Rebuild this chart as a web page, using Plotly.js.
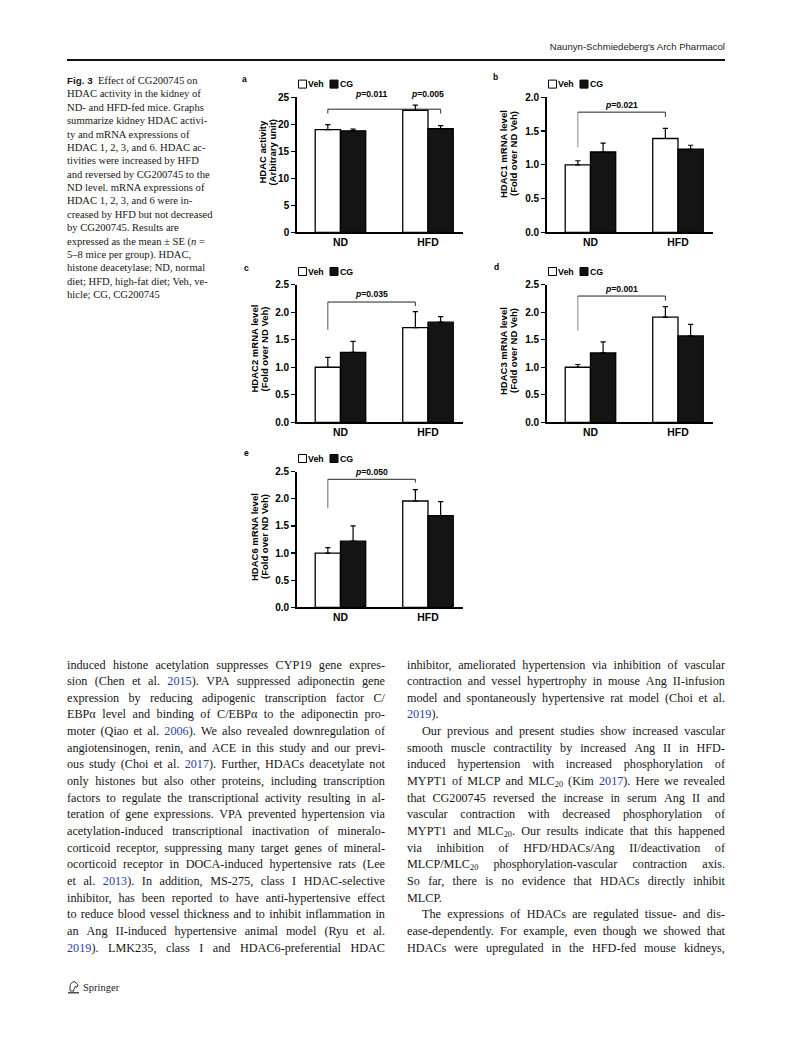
<!DOCTYPE html>
<html><head><meta charset="utf-8">
<script src="https://cdn.plot.ly/plotly-3.0.1.min.js"></script>
<style>
html,body{margin:0;padding:0;background:#fff;}
#page{position:relative;width:793px;height:1053px;overflow:hidden;background:#fff;}
#chart{position:absolute;left:0;top:0;width:793px;height:1053px;z-index:1;}
.txt{position:absolute;font-family:"Liberation Serif","Times New Roman",serif;color:#161616;z-index:2;}
.line{display:flex;justify-content:space-between;white-space:nowrap;}
.line.last{justify-content:flex-start;}
.line.last span{margin-right:0.25em;}
.line span{white-space:nowrap;}
a{color:#2b3f9e;text-decoration:none;}
sub{font-size:0.68em;vertical-align:-0.3em;line-height:0;}
#header{position:absolute;right:68px;top:41px;font-family:"Liberation Sans",Arial,sans-serif;font-size:9.6px;color:#222;}
#rule{position:absolute;left:67px;top:59px;width:658px;height:1.7px;background:#111;}
#caption{left:67px;top:74px;font-size:10.6px;line-height:13.37px;}
#caption .ln{white-space:nowrap;}
#caption b{font-family:"Liberation Sans",Arial,sans-serif;font-size:9.8px;}
#footer{position:absolute;left:67px;top:980px;font-family:"Liberation Serif",serif;font-size:10.5px;color:#222;display:flex;align-items:center;z-index:2;}
</style></head>
<body>
<div id="page">
  <div id="header">Naunyn-Schmiedeberg's Arch Pharmacol</div>
  <div id="rule"></div>
  <div id="caption" class="txt"></div>
  <div id="colL" class="txt" style="left:67px;top:656.5px;width:318px;font-size:12.2px;line-height:16.65px;"></div>
  <div id="colR" class="txt" style="left:407px;top:656.5px;width:318px;font-size:12.2px;line-height:16.65px;"></div>
  <div id="footer"><svg width="13" height="14" viewBox="0 0 13 14"><path d="M3 11 L3 7 Q3 2 8 1.5 L9 3 Q11 4 11 6 L10 7 L8 6.5 L8 8 Q6 9 7 11 Z" fill="none" stroke="#222" stroke-width="0.9"/><line x1="1" y1="12.8" x2="12" y2="12.8" stroke="#222" stroke-width="1.2"/></svg><span style="margin-left:3px;">Springer</span></div>
  <div id="chart"></div>
</div>
<script>
// ---------- DATA ----------
const categories = ['ND', 'HFD'];
const seriesNames = ['Veh', 'CG'];

const vehA = [19.0, 22.6], vehErrA = [0.95, 0.95], cgA = [18.8, 19.2], cgErrA = [0.3, 0.55];
const vehB = [1.0, 1.39], vehErrB = [0.06, 0.15], cgB = [1.19, 1.23], cgErrB = [0.13, 0.06];
const vehC = [1.0, 1.72], vehErrC = [0.18, 0.29], cgC = [1.27, 1.82], cgErrC = [0.2, 0.1];
const vehD = [1.0, 1.91], vehErrD = [0.05, 0.19], cgD = [1.26, 1.57], cgErrD = [0.2, 0.21];
const vehE = [1.0, 1.96], vehErrE = [0.1, 0.21], cgE = [1.22, 1.69], cgErrE = [0.28, 0.26];

const pLabelsA = ['p=0.011', 'p=0.005'];
const pLabelsB = ['p=0.021'];
const pLabelsC = ['p=0.035'];
const pLabelsD = ['p=0.001'];
const pLabelsE = ['p=0.050'];

const yTitleA = ['HDAC activity', '(Arbitrary unit)'];
const yTitleB = ['HDAC1 mRNA level', '(Fold over ND Veh)'];
const yTitleC = ['HDAC2 mRNA level', '(Fold over ND Veh)'];
const yTitleD = ['HDAC3 mRNA level', '(Fold over ND Veh)'];
const yTitleE = ['HDAC6 mRNA level', '(Fold over ND Veh)'];

// ---------- LAYOUT CONFIG ----------
const W = 793, H = 1053;
const px = x => x / W, py = y => 1 - y / H;
const BG = 0.423;                 // bargap
const half = (1 - BG) / 4;        // offset of each bar centre from category centre

const panels = [
  {letter:'a', veh:vehA, vehErr:vehErrA, cg:cgA, cgErr:cgErrA, yMax:25, dtick:5, fmt:'d',
   x0:296.7, x1:463, yTop:97.3, yBot:232.3, title:yTitleA, tx:[261.5, 271.5], ty:152, lx:240, ly:79,
   br:{h:22.8, l:22.0, r:22.0, rightIdx:'cg', py:25.7}, p:pLabelsA},
  {letter:'b', veh:vehB, vehErr:vehErrB, cg:cgB, cgErr:cgErrB, yMax:2, dtick:0.5, fmt:'.1f',
   x0:546.7, x1:713, yTop:97.3, yBot:232.3, title:yTitleB, tx:[504, 514], ty:154, lx:491, ly:77.5,
   br:{h:1.78, l:1.26, r:1.71, rightIdx:'veh', py:1.89, lc:'#888'}, p:pLabelsB},
  {letter:'c', veh:vehC, vehErr:vehErrC, cg:cgC, cgErr:cgErrC, yMax:2.5, dtick:0.5, fmt:'.1f',
   x0:296.7, x1:463, yTop:284.7, yBot:422.3, title:yTitleC, tx:[253.5, 263.5], ty:349, lx:241.5, ly:267.5,
   br:{h:2.185, l:1.68, r:2.11, rightIdx:'veh', py:2.33, lc:'#555'}, p:pLabelsC},
  {letter:'d', veh:vehD, vehErr:vehErrD, cg:cgD, cgErr:cgErrD, yMax:2.5, dtick:0.5, fmt:'.1f',
   x0:546.7, x1:713, yTop:284.7, yBot:422.3, title:yTitleD, tx:[504, 514], ty:351, lx:491.5, ly:266.5,
   br:{h:2.294, l:1.665, r:2.21, rightIdx:'veh', py:2.43, lc:'#888'}, p:pLabelsD},
  {letter:'e', veh:vehE, vehErr:vehErrE, cg:cgE, cgErr:cgErrE, yMax:2.5, dtick:0.5, fmt:'.1f',
   x0:296.7, x1:463, yTop:471.7, yBot:607.3, title:yTitleE, tx:[254, 264], ty:537, lx:242, ly:452.5,
   br:{h:2.36, l:1.83, r:2.30, rightIdx:'veh', py:2.5, lc:'#666'}, p:pLabelsE}
];

const FONT = 'Liberation Sans, Arial, sans-serif';
const traces = [], shapes = [], annotations = [];
const layout = {
  width: W, height: H, margin:{l:0,r:0,t:0,b:0},
  paper_bgcolor:'rgba(0,0,0,0)', plot_bgcolor:'rgba(0,0,0,0)',
  barmode:'group', bargap:BG, bargroupgap:0, showlegend:false,
  font:{family:FONT, color:'#000'}
};

panels.forEach((p, i) => {
  const n = i === 0 ? '' : String(i + 1);
  const xa = 'x' + n, ya = 'y' + n;
  const errStyle = {type:'data', symmetric:false, color:'#000', thickness:1.2, width:2.6};
  traces.push({type:'bar', name:seriesNames[0], x:categories, y:p.veh, xaxis:xa, yaxis:ya,
    marker:{color:'#ffffff', line:{color:'#000', width:1.3}},
    error_y:Object.assign({array:p.vehErr, arrayminus:p.vehErr.map(() => 0)}, errStyle)});
  traces.push({type:'bar', name:seriesNames[1], x:categories, y:p.cg, xaxis:xa, yaxis:ya,
    marker:{color:'#141414', line:{color:'#000', width:1.3}},
    error_y:Object.assign({array:p.cgErr, arrayminus:p.cgErr.map(() => 0)}, errStyle)});

  layout['xaxis' + n] = {domain:[px(p.x0), px(p.x1)], anchor:ya, type:'category', range:[-0.5, 1.4],
    showline:true, linecolor:'#000', linewidth:1.5, ticks:'', showgrid:false, zeroline:false, fixedrange:true,
    tickfont:{family:FONT, size:10.4, weight:700, color:'#000'}};
  layout['yaxis' + n] = {domain:[py(p.yBot), py(p.yTop)], anchor:xa, range:[0, p.yMax], dtick:p.dtick, tick0:0,
    tickformat:p.fmt, showline:true, linecolor:'#000', linewidth:1.5, ticks:'outside', ticklen:4, tickwidth:1.3,
    tickcolor:'#000', showgrid:false, zeroline:false, fixedrange:true,
    tickfont:{family:FONT, size:10, weight:700, color:'#000'}};

  // significance bracket
  const xl = 0 - half;
  const xr = 1 + (p.br.rightIdx === 'cg' ? half : -half);
  const lc = p.br.lc || '#333';
  shapes.push({type:'line', xref:xa, yref:ya, x0:xl, x1:xl, y0:p.br.l, y1:p.br.h, line:{color:lc, width:1}});
  shapes.push({type:'line', xref:xa, yref:ya, x0:xl, x1:xr, y0:p.br.h, y1:p.br.h, line:{color:'#222', width:1}});
  shapes.push({type:'line', xref:xa, yref:ya, x0:xr, x1:xr, y0:p.br.r, y1:p.br.h, line:{color:'#333', width:1}});
  const pX = p.p.length === 2 ? [(xl + 1 - half) / 2, 1] : [(xl + 1 - half) / 2];
  const labelPy = p.yBot - p.br.py / p.yMax * (p.yBot - p.yTop);   // text may sit above the axis range
  p.p.forEach((lab, k) => {
    const parts = lab.split('=');
    annotations.push({xref:xa, yref:'paper', x:pX[k], y:py(labelPy), showarrow:false, xanchor:'center', yanchor:'middle',
      text:'<i>' + parts[0] + '</i>=' + parts[1], font:{family:FONT, size:8.6, weight:700, color:'#000'}});
  });

  // legend (custom, sits above each plot)
  const sx = p.x0 + 1.8, sb = p.yTop - 9.2, sz = 8;
  shapes.push({type:'rect', xref:'paper', yref:'paper', x0:px(sx), x1:px(sx + sz), y0:py(sb), y1:py(sb - sz),
    fillcolor:'#fff', line:{color:'#000', width:1}});
  shapes.push({type:'rect', xref:'paper', yref:'paper', x0:px(sx + 31.5), x1:px(sx + 31.5 + sz), y0:py(sb), y1:py(sb - sz),
    fillcolor:'#111', line:{color:'#000', width:1}});
  annotations.push({xref:'paper', yref:'paper', x:px(sx + sz - 0.3), y:py(sb - sz / 2), xanchor:'left', yanchor:'middle',
    showarrow:false, text:seriesNames[0], font:{family:FONT, size:8.8, weight:700, color:'#000'}});
  annotations.push({xref:'paper', yref:'paper', x:px(sx + 31.5 + sz - 0.3), y:py(sb - sz / 2), xanchor:'left', yanchor:'middle',
    showarrow:false, text:seriesNames[1], font:{family:FONT, size:8.8, weight:700, color:'#000'}});

  // panel letter
  annotations.push({xref:'paper', yref:'paper', x:px(p.lx), y:py(p.ly), xanchor:'left', yanchor:'middle',
    showarrow:false, text:p.letter, font:{family:FONT, size:8.5, weight:700, color:'#000'}});

  // y-axis title (two tight lines)
  p.title.forEach((t, k) => {
    annotations.push({xref:'paper', yref:'paper', x:px(p.tx[k]), y:py(p.ty), xanchor:'center', yanchor:'middle',
      textangle:-90, showarrow:false, text:t, font:{family:FONT, size:9.5, weight:700, color:'#000'}});
  });
});

layout.shapes = shapes;
layout.annotations = annotations;
Plotly.newPlot('chart', traces, layout, {staticPlot:true, displayModeBar:false});

// ---------- TEXT ----------
const captionLines = [
  '<b>Fig. 3</b>&nbsp; Effect of CG200745 on',
  'HDAC activity in the kidney of',
  'ND- and HFD-fed mice. Graphs',
  'summarize kidney HDAC activi-',
  'ty and mRNA expressions of',
  'HDAC 1, 2, 3, and 6. HDAC ac-',
  'tivities were increased by HFD',
  'and reversed by CG200745 to the',
  'ND level. mRNA expressions of',
  'HDAC 1, 2, 3, and 6 were in-',
  'creased by HFD but not decreased',
  'by CG200745. Results are',
  'expressed as the mean ± SE (<i>n</i> =',
  '5–8 mice per group). HDAC,',
  'histone deacetylase; ND, normal',
  'diet; HFD, high-fat diet; Veh, ve-',
  'hicle; CG, CG200745'
];
document.getElementById('caption').innerHTML = captionLines.map(l => '<div class="ln">' + l + '</div>').join('');

const leftLines = [
  'induced histone acetylation suppresses CYP19 gene expres-',
  'sion (Chen et al. <a>2015</a>). VPA suppressed adiponectin gene',
  'expression by reducing adipogenic transcription factor C/',
  'EBPα level and binding of C/EBPα to the adiponectin pro-',
  'moter (Qiao et al. <a>2006</a>). We also revealed downregulation of',
  'angiotensinogen, renin, and ACE in this study and our previ-',
  'ous study (Choi et al. <a>2017</a>). Further, HDACs deacetylate not',
  'only histones but also other proteins, including transcription',
  'factors to regulate the transcriptional activity resulting in al-',
  'teration of gene expressions. VPA prevented hypertension via',
  'acetylation-induced transcriptional inactivation of mineralo-',
  'corticoid receptor, suppressing many target genes of mineral-',
  'ocorticoid receptor in DOCA-induced hypertensive rats (Lee',
  'et al. <a>2013</a>). In addition, MS-275, class I HDAC-selective',
  'inhibitor, has been reported to have anti-hypertensive effect',
  'to reduce blood vessel thickness and to inhibit inflammation in',
  'an Ang II-induced hypertensive animal model (Ryu et al.',
  '<a>2019</a>). LMK235, class I and HDAC6-preferential HDAC'
];
const rightLines = [
  'inhibitor, ameliorated hypertension via inhibition of vascular',
  'contraction and vessel hypertrophy in mouse Ang II-infusion',
  'model and spontaneously hypertensive rat model (Choi et al.',
  '<a>2019</a>).',
  'Our previous and present studies show increased vascular',
  'smooth muscle contractility by increased Ang II in HFD-',
  'induced hypertension with increased phosphorylation of',
  'MYPT1 of MLCP and MLC<sub>20</sub> (Kim <a>2017</a>). Here we revealed',
  'that CG200745 reversed the increase in serum Ang II and',
  'vascular contraction with decreased phosphorylation of',
  'MYPT1 and MLC<sub>20</sub>. Our results indicate that this happened',
  'via inhibition of HFD/HDACs/Ang II/deactivation of',
  'MLCP/MLC<sub>20</sub> phosphorylation-vascular contraction axis.',
  'So far, there is no evidence that HDACs directly inhibit',
  'MLCP.',
  'The expressions of HDACs are regulated tissue- and dis-',
  'ease-dependently. For example, even though we showed that',
  'HDACs were upregulated in the HFD-fed mouse kidneys,'
];
const rightLast = [3, 14];
const rightIndent = [4, 15];

function renderLines(el, lines, lastIdx, indentIdx) {
  el.innerHTML = lines.map((l, i) => {
    const cls = 'line' + (lastIdx.includes(i) ? ' last' : '');
    const style = indentIdx.includes(i) ? ' style="padding-left:15px"' : '';
    return '<div class="' + cls + '"' + style + '>' + l.split(' ').map(w => '<span>' + w + '</span>').join('') + '</div>';
  }).join('');
}
renderLines(document.getElementById('colL'), leftLines, [], []);
renderLines(document.getElementById('colR'), rightLines, rightLast, rightIndent);
</script>
</body></html>
